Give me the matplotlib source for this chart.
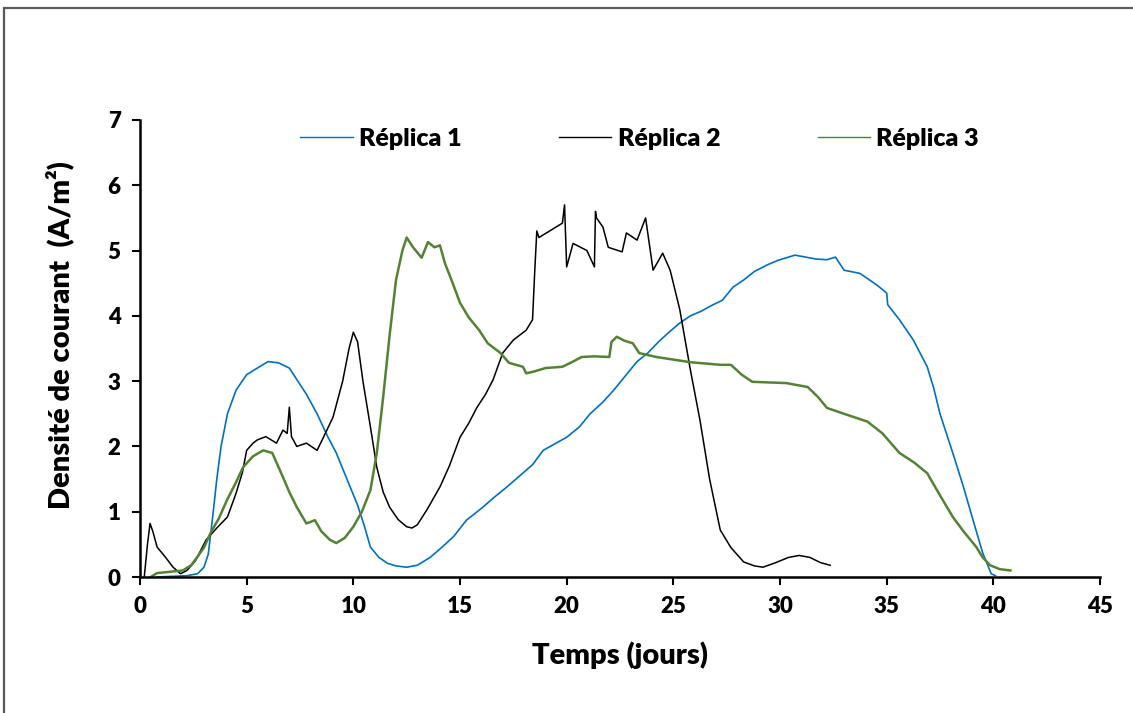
import matplotlib
matplotlib.use("Agg")
import matplotlib.pyplot as plt
from matplotlib.patches import Rectangle
from matplotlib.lines import Line2D

# ---------------- data ----------------
r1_x = [0.8, 1.5, 2.2, 2.7, 3.0, 3.2, 3.4, 3.6, 3.8, 4.1, 4.5, 5.0, 5.5, 6.0, 6.5, 7.0, 7.3, 7.8,
        8.3, 8.8, 9.2, 9.7, 10.2, 10.5, 10.8, 11.2, 11.6, 12.0, 12.5, 13.0, 13.6, 14.1, 14.7, 15.3,
        16.0, 16.6, 17.2, 17.8, 18.4, 18.9, 19.5, 20.0, 20.6, 21.1, 21.7, 22.2, 22.8, 23.3, 23.8,
        24.3, 24.8, 25.3, 25.8, 26.3, 26.8, 27.3, 27.8, 28.3, 28.8, 29.4, 29.9, 30.4, 30.7, 31.2,
        31.7, 32.2, 32.6, 33.0, 33.75, 34.55, 35.0, 35.05, 35.6, 36.25, 36.9, 37.2, 37.5, 38.1,
        38.6, 39.05, 39.5, 39.9, 40.1]
r1_y = [0.0, 0.01, 0.02, 0.05, 0.15, 0.35, 0.9, 1.5, 2.0, 2.5, 2.86, 3.1, 3.2, 3.3, 3.28, 3.2, 3.05,
        2.8, 2.5, 2.15, 1.9, 1.5, 1.1, 0.8, 0.46, 0.3, 0.21, 0.17, 0.15, 0.18, 0.3, 0.44, 0.62, 0.87,
        1.05, 1.22, 1.38, 1.55, 1.72, 1.94, 2.05, 2.14, 2.3, 2.5, 2.68, 2.86, 3.1, 3.3, 3.43, 3.6,
        3.75, 3.89, 4.0, 4.07, 4.16, 4.24, 4.44, 4.55, 4.68, 4.78, 4.85, 4.9, 4.93, 4.9, 4.87, 4.86,
        4.9, 4.7, 4.65, 4.47, 4.35, 4.17, 3.94, 3.63, 3.22, 2.9, 2.5, 1.9, 1.38, 0.87, 0.37, 0.05, 0.02]

r2_x = [0.2, 0.35, 0.47, 0.6, 0.8, 1.2, 1.55, 1.9, 2.2, 2.6, 3.1, 3.6, 4.1, 4.5, 4.8, 5.0, 5.3, 5.5,
        5.9, 6.4, 6.7, 6.9, 7.0, 7.1, 7.35, 7.8, 8.3, 8.6, 9.05, 9.5, 9.8, 10.0, 10.2, 10.45, 10.8,
        11.1, 11.4, 11.7, 12.1, 12.5, 12.75, 13.0, 13.45, 14.06, 14.5, 15.0, 15.4, 15.8, 16.2, 16.55,
        17.0, 17.5, 18.1, 18.4, 18.5, 18.6, 18.7, 19.8, 19.9, 20.0, 20.3, 20.95, 21.3, 21.35, 21.4,
        21.7, 21.95, 22.6, 22.8, 23.3, 23.7, 24.05, 24.5, 24.85, 25.3, 25.8, 26.25, 26.7, 27.2, 27.7,
        28.3, 28.8, 29.2, 29.8, 30.4, 30.9, 31.4, 31.9, 32.35]
r2_y = [0.0, 0.5, 0.82, 0.7, 0.46, 0.3, 0.15, 0.05, 0.1, 0.25, 0.57, 0.75, 0.92, 1.28, 1.6, 1.94,
        2.05, 2.1, 2.15, 2.05, 2.25, 2.2, 2.6, 2.15, 2.0, 2.05, 1.94, 2.14, 2.45, 3.0, 3.5, 3.75, 3.6,
        3.0, 2.3, 1.68, 1.3, 1.07, 0.88, 0.77, 0.75, 0.8, 1.03, 1.38, 1.7, 2.14, 2.35, 2.6, 2.8, 3.02,
        3.43, 3.63, 3.78, 3.94, 4.66, 5.3, 5.2, 5.42, 5.7, 4.75, 5.11, 5.0, 4.75, 5.6, 5.5, 5.36,
        5.05, 4.98, 5.27, 5.16, 5.5, 4.7, 4.96, 4.7, 4.1, 3.17, 2.4, 1.5, 0.72, 0.45, 0.23, 0.17,
        0.15, 0.22, 0.3, 0.33, 0.3, 0.22, 0.18]

r3_x = [0.5, 0.8, 1.4, 2.0, 2.4, 2.67, 3.0, 3.3, 3.7, 4.08, 4.5, 4.83, 5.3, 5.77, 6.2, 6.7, 7.0,
        7.35, 7.8, 8.2, 8.5, 8.9, 9.2, 9.6, 10.0, 10.4, 10.8, 11.1, 11.4, 11.7, 12.0, 12.3, 12.5,
        12.8, 13.2, 13.5, 13.8, 14.06, 14.3, 14.6, 15.0, 15.4, 15.9, 16.3, 16.9, 17.3, 17.95, 18.1,
        18.5, 19.0, 19.8, 20.3, 20.7, 21.3, 22.0, 22.1, 22.35, 22.7, 23.1, 23.4, 24.2, 25.0, 25.8,
        26.5, 27.2, 27.7, 28.2, 28.7, 29.5, 30.3, 31.3, 31.8, 32.2, 33.0, 34.1, 34.8, 35.6, 36.3,
        36.9, 37.5, 38.1, 38.6, 39.2, 39.5, 39.85, 40.3, 40.8]
r3_y = [0.0, 0.06, 0.08, 0.1, 0.18, 0.3, 0.45, 0.67, 0.9, 1.18, 1.45, 1.68, 1.85, 1.94, 1.9, 1.53,
        1.3, 1.07, 0.82, 0.87, 0.7, 0.57, 0.52, 0.6, 0.77, 1.0, 1.33, 1.9, 2.76, 3.7, 4.55, 5.0, 5.2,
        5.05, 4.89, 5.13, 5.05, 5.08, 4.8, 4.55, 4.2, 3.98, 3.78, 3.58, 3.43, 3.28, 3.22, 3.12, 3.15,
        3.2, 3.22, 3.3, 3.37, 3.38, 3.37, 3.6, 3.68, 3.62, 3.58, 3.43, 3.37, 3.33, 3.29, 3.27, 3.25,
        3.25, 3.1, 2.99, 2.98, 2.97, 2.91, 2.75, 2.59, 2.5, 2.38, 2.2, 1.9, 1.75, 1.59, 1.25, 0.92,
        0.7, 0.46, 0.3, 0.18, 0.12, 0.1]

series_names = ["Réplica 1", "Réplica 2", "Réplica 3"]
x_ticks = [0, 5, 10, 15, 20, 25, 30, 35, 40, 45]
y_ticks = [0, 1, 2, 3, 4, 5, 6, 7]
x_label = "Temps (jours)"
y_label = "Densité de courant  (A/m²)"

# ---------------- style ----------------
plt.rcParams['font.family'] = ['Lato', 'DejaVu Sans']

W, H = 1133, 713
fig = plt.figure(figsize=(W / 100, H / 100), dpi=100)
ax = fig.add_axes([140 / W, 1 - 577 / H, (1100 - 140) / W, (577 - 120) / H])

blue = "#0070C0"
black = "#000000"
green = "#548235"

ax.plot(r1_x, r1_y, color=blue, lw=1.2, label=series_names[0])
ax.plot(r2_x, r2_y, color=black, lw=1.1, label=series_names[1])
ax.plot(r3_x, r3_y, color=green, lw=1.8, label=series_names[2])

ax.set_xlim(0, 45)
ax.set_ylim(0, 7)
ax.set_xticks(x_ticks)
ax.set_yticks(y_ticks)
ax.set_xticklabels([str(v) for v in x_ticks], fontsize=16, fontweight='heavy')
ax.set_yticklabels([str(v) for v in y_ticks], fontsize=16, fontweight='heavy')
ax.tick_params(axis='both', direction='out', length=6, width=1.5, colors='black', pad=8)
for s in ['top', 'right']:
    ax.spines[s].set_visible(False)
for s in ['left', 'bottom']:
    ax.spines[s].set_linewidth(1.8)

ax.set_xlabel(x_label, fontsize=21, fontweight='heavy', labelpad=17)
ax.set_ylabel(y_label, fontsize=21, fontweight='heavy')
ax.yaxis.set_label_coords(-0.068, 0.53)

# legend
handles = [Line2D([], [], color=c, lw=1.0) for c in (blue, black, green)]
leg = fig.legend(handles, series_names, loc='center left',
                 bbox_to_anchor=(300 / W, 1 - 139 / H), ncol=3, frameon=False,
                 prop={'weight': 'heavy', 'size': 18}, handlelength=2.1,
                 handletextpad=0.25, columnspacing=3.9, borderpad=0, borderaxespad=0)

# figure border
fig.patches.append(Rectangle((4 / W, -0.05), 1.1, 1 - 8 / H + 0.05, transform=fig.transFigure,
                             fill=False, edgecolor="#595959", lw=1.6))

fig.savefig("out.png", dpi=100)
